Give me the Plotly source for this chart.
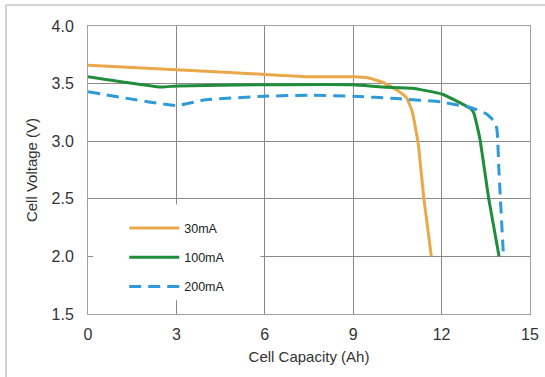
import plotly.graph_objects as go

# discharge curves
cap_30 = [0, 3, 6, 7.5, 9, 9.5, 10, 10.5, 10.8, 11.0, 11.2, 11.4, 11.65]
volt_30 = [3.66, 3.62, 3.58, 3.56, 3.56, 3.55, 3.51, 3.44, 3.38, 3.26, 2.99, 2.5, 2.0]

cap_100 = [0, 2.5, 3, 6, 9, 10, 11, 12, 12.5, 13, 13.1, 13.3, 13.6, 13.95]
volt_100 = [3.56, 3.47, 3.48, 3.49, 3.49, 3.47, 3.46, 3.41, 3.35, 3.28, 3.24, 3.02, 2.5, 2.0]

cap_200 = [0, 3, 4, 6, 7.5, 9, 10.5, 12, 13, 13.5, 13.8, 13.88, 13.95, 14.1]
volt_200 = [3.43, 3.31, 3.36, 3.39, 3.40, 3.39, 3.37, 3.34, 3.29, 3.24, 3.17, 3.1, 2.72, 2.0]

series = [
    ("30mA", cap_30, volt_30, "#EBA84A", "solid"),
    ("100mA", cap_100, volt_100, "#1F8E3B", "solid"),
    ("200mA", cap_200, volt_200, "#2E9AD8", "12px,7px"),
]

fig = go.Figure()
for i, (name, x, y, color, dash) in enumerate(series):
    fig.add_trace(go.Scatter(
        x=x, y=y, mode="lines", name=name, legendgroup=str(i),
        line=dict(color=color, width=3, dash=dash, shape="spline", smoothing=0.4),
    ))

tick_font = dict(family="Liberation Sans, Arial", size=16, color="#333333")
title_font = dict(family="Liberation Sans, Arial", size=15, color="#333333")

# frame edges (left and top only) in paper units
fx0, fx1 = (6 - 88) / 442, (546 - 88) / 442
fy0, fy1 = (314 - 380) / 288, (314 - 5) / 288
frame = dict(color="#c4c4c4", width=1.5)

fig.update_layout(
    width=545, height=377,
    margin=dict(l=88, r=15, t=26, b=63),
    paper_bgcolor="white", plot_bgcolor="white",
    font=title_font,
    xaxis=dict(
        range=[0, 15], tickvals=[0, 3, 6, 9, 12, 15], showgrid=True,
        gridcolor="#8a8a8a", gridwidth=1, showline=True, linecolor="#a0a0a0",
        linewidth=1, mirror=True, zeroline=False, automargin=False,
        ticks="outside", ticklen=6, tickcolor="rgba(0,0,0,0)",
        title=dict(text="Cell Capacity (Ah)", font=title_font, standoff=9),
        tickfont=tick_font,
    ),
    yaxis=dict(
        range=[1.5, 4.0], tickvals=[1.5, 2.0, 2.5, 3.0, 3.5, 4.0], tickformat=".1f",
        showgrid=True, gridcolor="#8a8a8a", gridwidth=1, showline=True,
        linecolor="#a0a0a0", linewidth=1, mirror=True, zeroline=False, automargin=False,
        ticks="outside", ticklen=10, tickcolor="rgba(0,0,0,0)",
        title=dict(text="Cell Voltage (V)", font=title_font, standoff=10),
        tickfont=tick_font,
    ),
    legend=dict(
        x=0.082, y=0.349, xanchor="left", yanchor="top",
        bgcolor="rgba(0,0,0,0)", font=dict(family="Liberation Sans, Arial", size=12.5, color="#222222"),
        traceorder="grouped", tracegroupgap=10, itemwidth=50,
    ),
    shapes=[
        # white box behind the legend hides the grid there
        dict(type="rect", xref="x", yref="y", x0=0.17, x1=5.85, y0=1.62, y1=2.45,
             fillcolor="white", line=dict(width=0), layer="between"),
        # light frame round the picture: left and top edges
        dict(type="line", xref="paper", yref="paper", x0=fx0, x1=fx0, y0=fy0, y1=fy1,
             line=frame, layer="above"),
        dict(type="line", xref="paper", yref="paper", x0=fx0, x1=fx1, y0=fy1, y1=fy1,
             line=frame, layer="above"),
    ],
)

# drop the page's default body margin so the figure sits at the window corner
fig.write_html("out.html", config={"displayModeBar": False},
               post_script="document.body.style.margin = '0';")
